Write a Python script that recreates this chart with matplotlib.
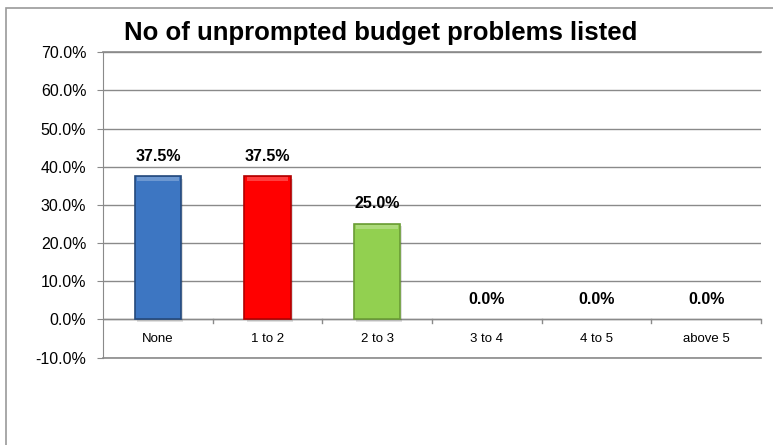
import matplotlib.pyplot as plt
from matplotlib.patches import Rectangle

categories = ["None", "1 to 2", "2 to 3", "3 to 4", "4 to 5", "above 5"]
shares = [37.5, 37.5, 25.0, 0.0, 0.0, 0.0]
bar_colors = ["#3d76c2", "#ff0000", "#92d050", "#92d050", "#92d050", "#92d050"]
edge_colors = ["#24497c", "#b00000", "#6a9c35", "#6a9c35", "#6a9c35", "#6a9c35"]
y_ticks = [-10, 0, 10, 20, 30, 40, 50, 60, 70]

grid_color = "#8a8a8a"
font = ["Liberation Sans", "DejaVu Sans"]

fig = plt.figure(figsize=(7.73, 4.45), dpi=100)

# chart frame (right and bottom edges fall outside the image)
fig.patches.append(Rectangle((6 / 773, -0.5), 2.0, (445 - 8) / 445 + 0.5,
                             transform=fig.transFigure, fill=False,
                             edgecolor="#9a9a9a", linewidth=1.2))

ax = fig.add_axes([103 / 773, 1 - 357.5 / 445, 658 / 773, (357.5 - 52.3) / 445])

x = range(len(categories))
edges = [c if v > 0 else "none" for c, v in zip(edge_colors, shares)]
# soft shadow under each bar
for i, v in enumerate(shares):
    if v > 0:
        ax.bar(i + 0.02, v, width=0.42, bottom=-0.6, color="#000000",
               alpha=0.12, zorder=2)
ax.bar(x, shares, width=0.42, color=bar_colors, edgecolor=edges,
       linewidth=1.2, zorder=3)
# light strip on the upper edge of each bar
for i, v in enumerate(shares):
    if v > 0:
        ax.bar(i, 1.0, width=0.38, bottom=v - 1.3, color="white", alpha=0.25,
               linewidth=0, zorder=4)

for i, v in enumerate(shares):
    ax.annotate(f"{v:.1f}%", (i, v), xytext=(0, 14.5), textcoords="offset points",
                ha="center", va="center", fontsize=11.5, fontweight="bold",
                family=font, color="black")

for i, name in enumerate(categories):
    ax.text(i, -5.2, name, ha="center", va="center", fontsize=9.5,
            family=font, color="black")

ax.set_xlim(-0.5, len(categories) - 0.5)
ax.set_ylim(-10, 70)
ax.set_yticks(y_ticks)
ax.set_yticklabels([f"{t:.1f}%" for t in y_ticks], fontsize=11.5, family=font)
ax.yaxis.grid(True, color=grid_color, linewidth=1.0, zorder=0)
ax.set_axisbelow(True)
ax.tick_params(axis="y", length=4, color=grid_color, pad=8)

# outer gridlines drawn unclipped so they stay full width
for level in (y_ticks[0], y_ticks[-1]):
    ax.axhline(level, color=grid_color, linewidth=1.2, clip_on=False, zorder=1)

# category boundary ticks hang below the zero line
ax.set_xticks([])
ax.axhline(0, color=grid_color, linewidth=1.0, zorder=1)
for b in range(1, len(categories) + 1):
    ax.plot([b - 0.5, b - 0.5], [0, -1.0], color=grid_color, linewidth=1.0,
            clip_on=False, zorder=1)

for side in ["top", "right", "bottom"]:
    ax.spines[side].set_visible(False)
ax.spines["left"].set_color(grid_color)
ax.set_facecolor("none")

fig.text(381 / 773, 1 - 33 / 445, "No of unprompted budget problems listed",
         ha="center", va="center", fontsize=18.5, fontweight="bold",
         family=font, color="black")

fig.savefig("out.png", dpi=100, facecolor="white")
